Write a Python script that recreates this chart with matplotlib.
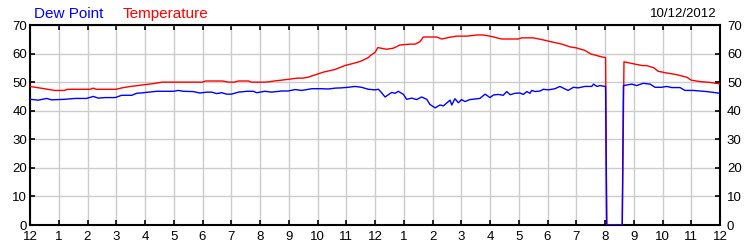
import matplotlib
matplotlib.use("Agg")
import matplotlib.pyplot as plt

plt.rcParams['font.family'] = ['Liberation Sans', 'DejaVu Sans']

# Hours since midnight (0..24) and readings
temp_hours = [0, 0.5, 0.85, 1.2, 1.3, 2.1, 2.2, 2.3, 3.0, 3.2, 3.5, 3.9, 4.3, 4.6,
              6.0, 6.1, 6.7, 6.9, 7.1, 7.25, 7.6, 7.7, 8.2, 8.5, 9.0, 9.3, 9.5,
              9.7, 9.9, 10.2, 10.6, 10.95, 11.3, 11.5, 11.77, 11.85, 12.0, 12.1,
              12.4, 12.64, 12.87, 13.2, 13.4, 13.57, 13.68, 14.15, 14.32, 14.6,
              14.84, 15.19, 15.54, 15.77, 16.0, 16.4, 16.98, 17.1, 17.5, 17.8,
              18.1, 18.5, 18.8, 19.0, 19.3, 19.5, 19.75, 19.95, 20.02, 20.06,
              20.6, 20.66, 21.0, 21.3, 21.45, 21.7, 21.85, 22.15, 22.5, 22.85,
              23.0, 23.3, 23.65, 24.0]
temp_values = [48.5, 47.7, 47.1, 47.1, 47.5, 47.5, 47.9, 47.5, 47.5, 48.0, 48.5, 49.0,
               49.5, 50.0, 50.0, 50.4, 50.4, 50.0, 50.0, 50.4, 50.4, 50.0, 50.0, 50.4,
               51.0, 51.4, 51.4, 51.8, 52.5, 53.5, 54.4, 55.8, 56.7, 57.3, 58.6, 59.4,
               60.4, 62.1, 61.5, 61.9, 63.0, 63.3, 63.3, 64.2, 65.8, 65.8, 65.1, 65.7,
               66.1, 66.1, 66.5, 66.5, 66.1, 65.1, 65.1, 65.5, 65.5, 64.9, 64.2, 63.3,
               62.3, 62.0, 61.1, 59.9, 59.2, 58.7, 58.6, 0.0, 0.0, 57.1, 56.4, 55.8,
               55.8, 55.0, 53.8, 53.2, 52.6, 51.7, 50.7, 50.2, 49.9, 49.4]

dew_hours = [0, 0.29, 0.58, 0.75, 1.22, 1.57, 1.97, 2.2, 2.38, 2.61, 2.96, 3.19, 3.54,
             3.71, 3.85, 4.41, 4.99, 5.16, 5.33, 5.68, 5.91, 6.15, 6.32, 6.49, 6.67,
             6.84, 7.01, 7.25, 7.54, 7.77, 7.88, 8.0, 8.17, 8.4, 8.75, 8.98, 9.22,
             9.45, 9.8, 10.14, 10.38, 10.61, 10.84, 11.07, 11.3, 11.53, 11.77, 12.0,
             12.12, 12.23, 12.35, 12.58, 12.7, 12.81, 12.99, 13.1, 13.28, 13.45,
             13.62, 13.8, 13.91, 14.09, 14.26, 14.38, 14.61, 14.67, 14.78, 14.9,
             15.01, 15.13, 15.3, 15.65, 15.83, 16.0, 16.12, 16.29, 16.46, 16.58,
             16.7, 16.87, 17.04, 17.16, 17.28, 17.39, 17.45, 17.57, 17.74, 17.86,
             18.03, 18.26, 18.43, 18.61, 18.72, 18.9, 19.07, 19.3, 19.54, 19.6,
             19.72, 19.83, 20.0, 20.02, 20.06, 20.6, 20.64, 20.93, 21.1, 21.33,
             21.57, 21.74, 21.97, 22.15, 22.32, 22.61, 22.78, 23.07, 23.3, 23.54, 24.0]
dew_values = [44.0, 43.7, 44.3, 43.8, 44.0, 44.3, 44.3, 45.0, 44.4, 44.6, 44.6, 45.4,
              45.4, 46.1, 46.2, 46.8, 46.8, 47.1, 46.8, 46.7, 46.2, 46.5, 46.5, 46.0,
              46.3, 45.8, 45.8, 46.5, 46.8, 46.8, 46.3, 46.5, 46.8, 46.5, 46.9, 46.9,
              47.4, 47.1, 47.7, 47.7, 47.6, 47.9, 48.0, 48.2, 48.5, 48.2, 47.5, 47.3,
              47.5, 46.3, 44.8, 46.4, 46.1, 46.8, 45.7, 44.0, 44.4, 43.9, 44.8, 44.0,
              42.2, 41.0, 42.0, 41.7, 43.7, 42.0, 44.2, 42.8, 43.9, 43.2, 43.9, 44.3,
              45.8, 44.6, 45.5, 45.7, 45.4, 46.7, 45.6, 46.1, 46.2, 45.7, 46.7, 46.1,
              47.1, 46.7, 46.9, 47.5, 47.3, 47.7, 48.5, 47.6, 47.1, 48.2, 48.0, 48.5,
              48.5, 49.3, 48.5, 48.8, 48.5, 48.5, 0.0, 0.0, 48.8, 49.3, 48.8, 49.6,
              49.3, 48.2, 48.2, 48.5, 48.1, 48.1, 47.1, 47.1, 46.9, 46.7, 46.1]

x_tick_labels = ['12', '1', '2', '3', '4', '5', '6', '7', '8', '9', '10', '11',
                 '12', '1', '2', '3', '4', '5', '6', '7', '8', '9', '10', '11', '12']
y_ticks = [0, 10, 20, 30, 40, 50, 60, 70]

fig = plt.figure(figsize=(7.5, 2.5), dpi=100)
ax = fig.add_axes([30/750, 25/250, 690/750, 200/250])

ax.plot(temp_hours, temp_values, color='#ff0000', lw=1.0, zorder=3)
ax.plot(dew_hours, dew_values, color='#0000ff', lw=1.0, zorder=4)

ax.set_xlim(0, 24)
ax.set_ylim(0, 70)
ax.set_xticks(range(25))
ax.set_xticklabels(x_tick_labels)
ax.set_yticks(y_ticks)
ax.grid(True, color='#cccccc', lw=1.0, zorder=0)
ax.set_axisbelow(True)
for s in ax.spines.values():
    s.set_linewidth(1.5)
    s.set_color('black')
ax.tick_params(axis='both', direction='in', length=3.5, width=1.2,
               labelsize=9.5, colors='black')
ax.tick_params(axis='x', top=True, pad=4)
ax.tick_params(axis='y', right=True, pad=2)

# right-hand labels with a wider gap
ax2 = ax.twinx()
ax2.set_ylim(ax.get_ylim())
ax2.set_yticks(y_ticks)
ax2.tick_params(axis='y', direction='in', length=3.5, width=1.2,
                labelsize=9.5, colors='black', pad=5)
for s in ax2.spines.values():
    s.set_visible(False)

fig.text(34/750, 1 - 17.5/250, 'Dew Point', color='#0000ff', fontsize=11,
         va='baseline', ha='left')
fig.text(123/750, 1 - 17.5/250, 'Temperature', color='#ff0000', fontsize=11,
         va='baseline', ha='left')
fig.text(717/750, 1 - 17/250, '10/12/2012', color='black', fontsize=9.5,
         va='baseline', ha='right')

fig.savefig('out.png', dpi=100)
